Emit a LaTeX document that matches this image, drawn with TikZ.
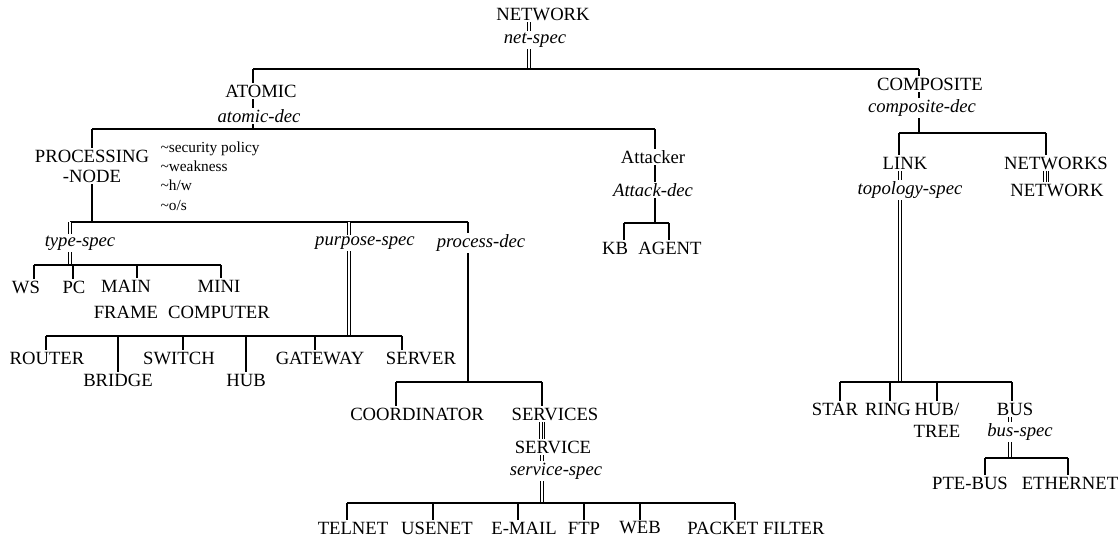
\documentclass[tikz,border=0pt]{standalone}
\usepackage{fontspec}
\setmainfont{Liberation Serif}
\tikzset{every picture/.style={line width=0.85pt}}
\tikzset{
  lbl/.style={inner sep=1pt, font=\fontsize{14}{16.5}\selectfont, align=center},
  spec/.style={inner sep=1pt, font=\fontsize{14}{16.5}\selectfont\itshape, align=center},
  note/.style={inner sep=0pt, anchor=north west, align=left, font=\fontsize{11.5}{14.5}\selectfont},
  dbl/.style={double, double distance=1.4pt, line width=0.55pt},
  tpl/.style={double, double distance=2.8pt, line width=0.5pt},
  mid/.style={line width=0.5pt}
}
\begin{document}
\begin{tikzpicture}[x=0.75pt,y=0.75pt,yscale=-1,xscale=1]
\useasboundingbox (0,0) rectangle (1120,541);

% Text Node
\node[lbl] (network) at (543,14) {NETWORK};
\node[spec] (netspec) at (535,40) {net-spec};
% Text Node
\node[lbl] (atomic) at (261,91) {ATOMIC};
\node[spec] (atomicdec) at (259,116) {atomic-dec};
\node[lbl, font=\fontsize{14}{15}\selectfont] (procnode) at (92,166) {PROCESSING\\-NODE};
\node[note] (notes) at (160,141) {\textasciitilde security policy\\\textasciitilde weakness\\\textasciitilde h/w\\\textasciitilde o/s};
\node[lbl] (attacker) at (653,157) {Attacker};
\node[spec] (attackdec) at (653,190) {Attack-dec};
\node[lbl] (kb) at (615,248) {KB};
\node[lbl] (agent) at (670,248) {AGENT};
% Text Node
\node[spec] (typespec) at (80,243) {type-spec};
\node[spec] (purposespec) at (365,243) {purpose-spec};
\node[spec] (processdec) at (481,243) {process-dec};
\node[lbl] (ws) at (26,287) {WS};
\node[lbl] (pc) at (74,287) {PC};
\node[lbl] (mainframe) at (126,299) {MAIN\\[3pt]FRAME};
\node[lbl] (minicomp) at (219,299) {MINI\\[3pt]COMPUTER};
% Text Node
\node[lbl] (router) at (47,358) {ROUTER};
\node[lbl] (bridge) at (118,380) {BRIDGE};
\node[lbl] (switch) at (179,358) {SWITCH};
\node[lbl] (hub) at (246,380) {HUB};
\node[lbl] (gateway) at (320,358) {GATEWAY};
\node[lbl] (server) at (421,358) {SERVER};
% Text Node
\node[lbl] (coordinator) at (417,414) {COORDINATOR};
\node[lbl] (services) at (555,414) {SERVICES};
\node[lbl] (service) at (553,447) {SERVICE};
\node[spec] (servicespec) at (556,471) {service-spec};
\node[lbl] (telnet) at (353,528) {TELNET};
\node[lbl] (usenet) at (437,528) {USENET};
\node[lbl] (email) at (524,528) {E-MAIL};
\node[lbl] (ftp) at (584,528) {FTP};
\node[lbl] (web) at (640,528) {WEB};
\node[lbl] (packet) at (756,528) {PACKET FILTER};
% Text Node
\node[lbl] (composite) at (930,84) {COMPOSITE};
\node[spec] (compositedec) at (922,108) {composite-dec};
\node[lbl] (link) at (905,163) {LINK};
\node[lbl] (networks) at (1056,163) {NETWORKS};
\node[spec] (topology) at (910,190) {topology-spec};
\node[lbl] (network2) at (1057,190) {NETWORK};
\node[lbl] (star) at (835,409) {STAR};
\node[lbl] (ring) at (888,409) {RING};
\node[lbl] (hubtree) at (937,420) {HUB/\\TREE};
\node[lbl] (bus) at (1015,409) {BUS};
\node[spec] (busspec) at (1020,432) {bus-spec};
\node[lbl] (ptebus) at (970,483) {PTE-BUS};
\node[lbl] (ethernet) at (1070,483) {ETHERNET};

% Bar ends and ticks
\coordinate (vnet) at (529,69);
\coordinate (h1a) at (253,69);
\coordinate (h1b) at (919,69);
\coordinate (h2a) at (92,129);
\coordinate (h2b) at (655,129);
\coordinate (h3a) at (70,222);
\coordinate (h3p) at (349,222);
\coordinate (h3b) at (468,222);
\coordinate (h4a) at (34,265);
\coordinate (h4pc) at (73,265);
\coordinate (h4mf) at (137,265);
\coordinate (h4b) at (221,265);
\coordinate (h5a) at (46,336);
\coordinate (h5br) at (118,336);
\coordinate (h5sw) at (183,336);
\coordinate (h5hb) at (246,336);
\coordinate (h5gw) at (315,336);
\coordinate (h5b) at (402,336);
\coordinate (h6a) at (396,382);
\coordinate (h6b) at (542,382);
\coordinate (h7a) at (347,503);
\coordinate (h7us) at (433,503);
\coordinate (h7em) at (518,503);
\coordinate (h7ft) at (584,503);
\coordinate (h7wb) at (640,503);
\coordinate (h7b) at (735,503);
\coordinate (vsrv) at (542,503);
\coordinate (h8a) at (624,223);
\coordinate (h8b) at (669,223);
\coordinate (h9a) at (899,133);
\coordinate (h9b) at (1046,133);
\coordinate (h10a) at (840,382);
\coordinate (h10rg) at (890,382);
\coordinate (h10lk) at (900,382);
\coordinate (h10ht) at (937,382);
\coordinate (h10b) at (1012,382);
\coordinate (h11a) at (985,458);
\coordinate (h11bs) at (1010,458);
\coordinate (h11b) at (1068,458);

%Straight Lines
\draw[dbl] (vnet |- network.south) -- (vnet |- netspec.north);
\draw[dbl] (vnet |- netspec.south) -- (vnet);
\draw (h1a) -- (h1b);
\draw (h1a) -- (h1a |- atomic.north);
\draw (h1b) -- (h1b |- composite.north);
%Straight Lines
\draw (h1a |- atomic.south) -- (h1a |- atomicdec.north);
\draw (h1a |- atomicdec.south) -- (h1a |- h2a);
\draw (h2a) -- (h2b);
\draw (h2a) -- (procnode.north);
\draw (h2b) -- (h2b |- attacker.north);
\draw (h2b |- attacker.south) -- (h2b |- attackdec.north);
\draw (h2b |- attackdec.south) -- (h2b |- h8a);
\draw (h8a) -- (h8b);
\draw (h8a) -- (h8a |- kb.north);
\draw (h8b) -- (h8b |- agent.north);
%Straight Lines
\draw (procnode.south) -- (procnode.south |- h3a);
\draw (h3a) -- (h3b);
\draw[dbl] (h3a) -- (h3a |- typespec.north);
\draw[dbl] (h3a |- typespec.south) -- (h3a |- h4a);
\draw (h4a) -- (h4b);
\draw (h4a) -- (h4a |- ws.north);
\draw (h4pc) -- (h4pc |- pc.north);
\draw (h4mf) -- (h4mf |- mainframe.north);
\draw (h4b) -- (h4b |- minicomp.north);
%Straight Lines
\draw[dbl] (h3p) -- (h3p |- purposespec.north);
\draw[dbl] (h3p |- purposespec.south) -- (h3p |- h5a);
\draw (h5a) -- (h5b);
\draw (h5a) -- (h5a |- router.north);
\draw (h5br) -- (h5br |- bridge.north);
\draw (h5sw) -- (h5sw |- switch.north);
\draw (h5hb) -- (h5hb |- hub.north);
\draw (h5gw) -- (h5gw |- gateway.north);
\draw (h5b) -- (h5b |- server.north);
%Straight Lines
\draw (h3b) -- (h3b |- processdec.north);
\draw (h3b |- processdec.south) -- (h3b |- h6a);
\draw (h6a) -- (h6b);
\draw (h6a) -- (h6a |- coordinator.north);
\draw (h6b) -- (h6b |- services.north);
\draw[tpl] (vsrv |- services.south) -- (vsrv |- service.north);
\draw[mid] (vsrv |- services.south) -- (vsrv |- service.north);
\draw[dbl] (vsrv |- service.south) -- (vsrv |- servicespec.north);
\draw[dbl] (vsrv |- servicespec.south) -- (vsrv);
\draw (h7a) -- (h7b);
\draw (h7a) -- (h7a |- telnet.north);
\draw (h7us) -- (h7us |- usenet.north);
\draw (h7em) -- (h7em |- email.north);
\draw (h7ft) -- (h7ft |- ftp.north);
\draw (h7wb) -- (h7wb |- web.north);
\draw (h7b) -- (h7b |- packet.north);
%Straight Lines
\draw (h1b |- composite.south) -- (h1b |- compositedec.north);
\draw (h1b |- compositedec.south) -- (h1b |- h9a);
\draw (h9a) -- (h9b);
\draw (h9a) -- (h9a |- link.north);
\draw (h9b) -- (h9b |- networks.north);
\draw[tpl] (h9b |- networks.south) -- (h9b |- network2.north);
\draw[mid] (h9b |- networks.south) -- (h9b |- network2.north);
\draw[dbl] (h10lk |- link.south) -- (h10lk |- topology.north);
\draw[dbl] (h10lk |- topology.south) -- (h10lk);
\draw (h10a) -- (h10b);
\draw (h10a) -- (h10a |- star.north);
\draw (h10rg) -- (h10rg |- ring.north);
\draw (h10ht) -- (h10ht |- hubtree.north);
\draw (h10b) -- (h10b |- bus.north);
\draw[dbl] (h11bs |- bus.south) -- (h11bs |- busspec.north);
\draw[dbl] (h11bs |- busspec.south) -- (h11bs);
\draw (h11a) -- (h11b);
\draw (h11a) -- (h11a |- ptebus.north);
\draw (h11b) -- (h11b |- ethernet.north);

\end{tikzpicture}
\end{document}
